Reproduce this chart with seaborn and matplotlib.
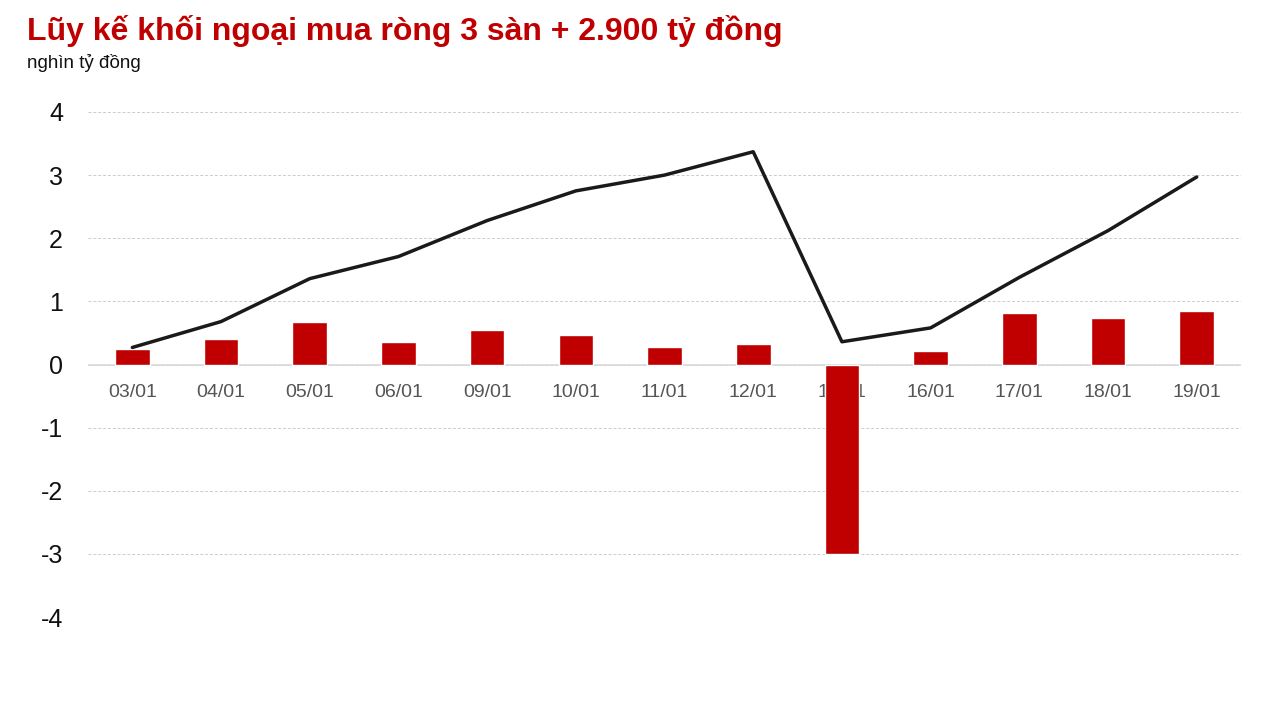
import numpy as np
import pandas as pd
import matplotlib
matplotlib.use("Agg")
import matplotlib.pyplot as plt
import seaborn as sns

# Données (nghìn tỷ đồng)
dates = ['03/01', '04/01', '05/01', '06/01', '09/01', '10/01', '11/01',
         '12/01', '13/01', '16/01', '17/01', '18/01', '19/01']
daily_net = [0.25, 0.41, 0.68, 0.36, 0.55, 0.46, 0.27,
             0.33, -3.0, 0.22, 0.81, 0.74, 0.84]
cumulative = [0.27, 0.68, 1.36, 1.71, 2.28, 2.75, 3.00,
              3.37, 0.36, 0.58, 1.38, 2.12, 2.97]
y_ticks = [-4, -3, -2, -1, 0, 1, 2, 3, 4]

df = pd.DataFrame({'date': dates, 'net': daily_net, 'cum': cumulative})

sns.set_style("whitegrid")
plt.rcParams['font.family'] = ['Liberation Sans', 'DejaVu Sans']
plt.rcParams['axes.unicode_minus'] = False

fig = plt.figure(figsize=(12.81, 7.21), dpi=100)
ax = fig.add_axes([0.0687, 0.1442, 0.9001, 0.7005])

sns.barplot(data=df, x='date', y='net', color='#c00000', width=0.39,
            saturation=1, ax=ax, zorder=3)
sns.lineplot(data=df, x='date', y='cum', color='#1a1a1a', linewidth=2.5,
             ax=ax, zorder=4, sort=False)

ax.set_xlim(-0.5, len(dates) - 0.5)
ax.set_ylim(-4, 4)
ax.set_yticks(y_ticks)
ax.set_yticklabels([str(t) for t in y_ticks])
ax.set_xlabel('')
ax.set_ylabel('')

# grille pointillée, ligne du zéro pleine
ax.grid(axis='y', color='#cccccc', linestyle=(0, (3, 2)), linewidth=0.7)
ax.grid(axis='x', visible=False)
ax.axhline(0, color='#d9d9d9', linewidth=1.2, zorder=2)
for s in ax.spines.values():
    s.set_visible(False)

# étiquettes de dates juste sous le zéro
ax.spines['bottom'].set_position(('data', 0))
ax.tick_params(axis='x', length=0, pad=14, labelsize=14, labelcolor='#555555')
ax.tick_params(axis='y', length=0, pad=18, labelsize=18, labelcolor='#111111')

fig.text(0.021, 0.957, 'Lũy kế khối ngoại mua ròng 3 sàn + 2.900 tỷ đồng',
         color='#c00000', fontsize=23, fontweight='bold', va='center')
fig.text(0.021, 0.913, 'nghìn tỷ đồng', color='#111111', fontsize=13.5,
         va='center')

fig.savefig('out.png', dpi=100)
